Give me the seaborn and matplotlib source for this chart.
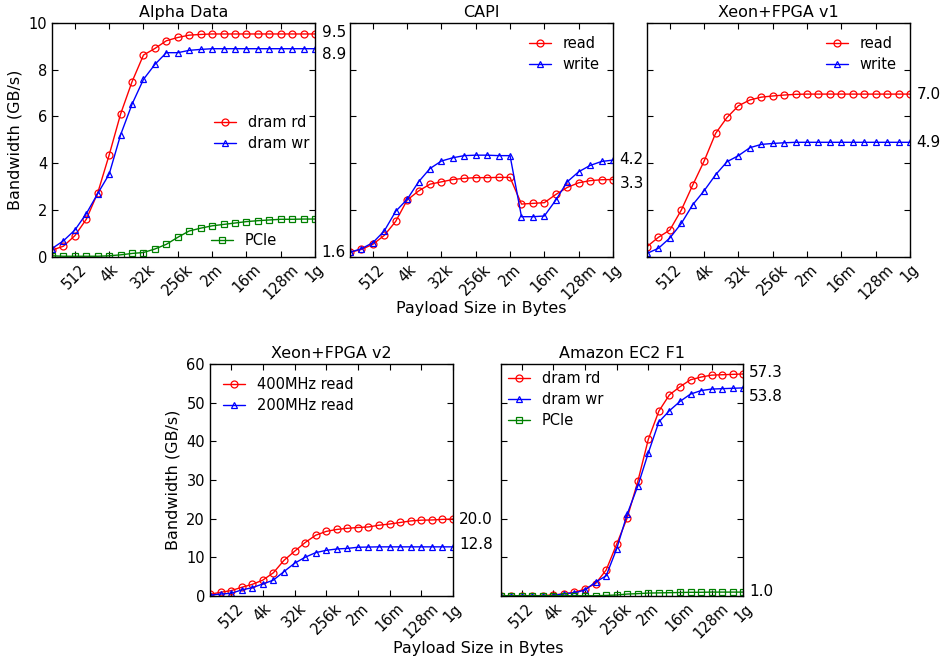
import numpy as np
import pandas as pd
import matplotlib
matplotlib.use("Agg")
import matplotlib.pyplot as plt
import seaborn as sns

# payload sizes 2^7 .. 2^30 bytes
sizes = [2 ** p for p in range(7, 31)]
tick_pos = [2 ** 9, 2 ** 12, 2 ** 15, 2 ** 18, 2 ** 21, 2 ** 24, 2 ** 27, 2 ** 30]
tick_labels = ["512", "4k", "32k", "256k", "2m", "16m", "128m", "1g"]

# Alpha Data
alpha_rd = [0.28, 0.45, 0.9, 1.6, 2.73, 4.35, 6.1, 7.48, 8.62, 8.9, 9.23, 9.37,
            9.47, 9.5, 9.52, 9.52, 9.52, 9.52, 9.52, 9.52, 9.52, 9.52, 9.52, 9.52]
alpha_wr = [0.35, 0.68, 1.14, 1.84, 2.7, 3.53, 5.21, 6.52, 7.58, 8.22, 8.72, 8.72,
            8.82, 8.86, 8.89, 8.89, 8.89, 8.89, 8.89, 8.89, 8.89, 8.89, 8.89, 8.89]
alpha_pcie = [0.04, 0.02, 0.02, 0.02, 0.02, 0.04, 0.08, 0.14, 0.18, 0.33, 0.53, 0.83,
              1.1, 1.22, 1.32, 1.38, 1.44, 1.5, 1.54, 1.57, 1.6, 1.6, 1.61, 1.61]

# CAPI
capi_rd = [0.19, 0.31, 0.53, 0.91, 1.51, 2.42, 2.81, 3.1, 3.2, 3.3, 3.35, 3.38,
           3.38, 3.39, 3.39, 2.25, 2.28, 2.31, 2.66, 2.96, 3.16, 3.25, 3.29, 3.3]
capi_wr = [0.19, 0.34, 0.6, 1.1, 1.94, 2.45, 3.2, 3.77, 4.09, 4.23, 4.32, 4.34,
           4.34, 4.32, 4.32, 1.71, 1.71, 1.74, 2.42, 3.2, 3.63, 3.9, 4.07, 4.13]

# Xeon+FPGA v1
v1_rd = [0.43, 0.83, 1.14, 1.99, 3.06, 4.09, 5.27, 5.95, 6.45, 6.7, 6.82, 6.87,
         6.91, 6.94, 6.95, 6.95, 6.95, 6.95, 6.95, 6.95, 6.95, 6.95, 6.95, 6.95]
v1_wr = [0.14, 0.36, 0.8, 1.42, 2.22, 2.82, 3.5, 4.06, 4.32, 4.66, 4.8, 4.84,
         4.87, 4.89, 4.89, 4.89, 4.89, 4.89, 4.89, 4.89, 4.89, 4.89, 4.89, 4.89]

# Xeon+FPGA v2
v2_400 = [0.43, 0.95, 1.38, 2.24, 3.0, 4.1, 6.0, 9.2, 11.55, 13.8, 15.7, 16.7,
          17.2, 17.5, 17.7, 17.85, 18.3, 18.6, 19.0, 19.4, 19.6, 19.65, 19.8, 19.9]
v2_200 = [0.2, 0.5, 0.7, 1.55, 2.15, 3.1, 4.1, 6.3, 8.45, 10.0, 11.2, 11.8,
          12.15, 12.3, 12.6, 12.65, 12.7, 12.7, 12.7, 12.7, 12.7, 12.7, 12.7, 12.7]

# Amazon EC2 F1
f1_rd = [0.05, 0.05, 0.05, 0.05, 0.1, 0.26, 0.55, 0.95, 1.8, 3.2, 6.7, 13.4,
         20.2, 29.6, 40.5, 47.8, 52.0, 54.1, 55.9, 56.6, 57.1, 57.2, 57.3, 57.4]
f1_wr = [0.0, 0.0, 0.0, 0.0, 0.0, 0.1, 0.6, 0.8, 1.55, 3.6, 5.2, 12.2,
         21.2, 28.4, 37.0, 45.0, 47.9, 50.3, 52.2, 53.1, 53.5, 53.6, 53.7, 53.8]
f1_pcie = [0.05, 0.05, 0.05, 0.05, 0.05, 0.05, 0.05, 0.05, 0.05, 0.05, 0.15, 0.25,
           0.5, 0.6, 0.75, 0.8, 0.85, 0.9, 0.95, 0.95, 1.0, 1.0, 1.0, 1.0]

sns.set_style("ticks")
plt.rcParams["font.family"] = ["DejaVu Sans"]
plt.rcParams.update({
    "xtick.direction": "in", "ytick.direction": "in",
    "xtick.top": True, "ytick.right": True,
    "xtick.major.size": 4, "ytick.major.size": 4,
    "xtick.labelsize": 10.5, "ytick.labelsize": 10.5,
    "axes.linewidth": 1.0, "axes.edgecolor": "black",
    "text.color": "black", "axes.labelcolor": "black",
    "xtick.color": "black", "ytick.color": "black",
})

fig = plt.figure(figsize=(9.42, 6.63), dpi=100)

RED = dict(color="red", marker="o")
BLUE = dict(color="blue", marker="^")
GREEN = dict(color="green", marker="s")


def draw(ax, y, label, style):
    sns.lineplot(x=sizes, y=y, ax=ax, color=style["color"], marker=style["marker"],
                 mfc="none", mec=style["color"], mew=0.9, ms=5, lw=1,
                 label=label, legend=False)


def setup(ax, title, ymax, ystep, show_y):
    ax.set_xscale("log", base=2)
    ax.set_xlim(sizes[0], sizes[-1])
    ax.set_xticks(tick_pos)
    ax.set_xticklabels(tick_labels, rotation=45)
    ax.minorticks_off()
    ax.set_ylim(0, ymax)
    ax.set_yticks(np.arange(0, ymax + 1, ystep))
    if show_y:
        ax.set_ylabel("Bandwidth (GB/s)", fontsize=11.5)
    else:
        ax.set_yticklabels([])
    ax.set_xlabel("")
    ax.set_title(title, fontsize=11.5, pad=4)


def end_labels(ax, texts, ys):
    tr = ax.get_yaxis_transform()
    for s, yy in zip(texts, ys):
        ax.text(1.025, yy, s, transform=tr, va="center", ha="left", fontsize=11)


def legend(ax, lines, **kw):
    leg = ax.legend(handles=lines, frameon=False, numpoints=1, handlelength=1.5,
                    fontsize=10.5, handletextpad=0.8, labelspacing=0.4, **kw)
    return leg


# top row
ax1 = fig.add_axes([0.0552, 0.6128, 0.2792, 0.3529])
ax2 = fig.add_axes([0.3715, 0.6128, 0.2792, 0.3529])
ax3 = fig.add_axes([0.6868, 0.6128, 0.2792, 0.3529])
# bottom row
ax4 = fig.add_axes([0.2229, 0.1011, 0.2580, 0.3500])
ax5 = fig.add_axes([0.5315, 0.1011, 0.2575, 0.3500])

# Alpha Data
draw(ax1, alpha_rd, "dram rd", RED)
draw(ax1, alpha_wr, "dram wr", BLUE)
draw(ax1, alpha_pcie, "PCIe", GREEN)
setup(ax1, "Alpha Data", 10, 2, True)
ln = ax1.get_lines()
leg = legend(ax1, ln[:2], loc="center right", bbox_to_anchor=(1.027, 0.53))
ax1.add_artist(leg)
legend(ax1, ln[2:], loc="center right", bbox_to_anchor=(0.905, 0.068))
end_labels(ax1, ["9.5", "8.9", "1.6"], [9.6, 8.65, 0.19])

# CAPI
draw(ax2, capi_rd, "read", RED)
draw(ax2, capi_wr, "write", BLUE)
setup(ax2, "CAPI", 10, 2, False)
legend(ax2, ax2.get_lines(), loc="upper right", bbox_to_anchor=(1.0, 1.0))
end_labels(ax2, ["4.2", "3.3"], [4.16, 3.15])

# Xeon+FPGA v1
draw(ax3, v1_rd, "read", RED)
draw(ax3, v1_wr, "write", BLUE)
setup(ax3, "Xeon+FPGA v1", 10, 2, False)
legend(ax3, ax3.get_lines(), loc="upper right", bbox_to_anchor=(1.0, 1.0))
end_labels(ax3, ["7.0", "4.9"], [6.95, 4.87])

# Xeon+FPGA v2
draw(ax4, v2_400, "400MHz read", RED)
draw(ax4, v2_200, "200MHz read", BLUE)
setup(ax4, "Xeon+FPGA v2", 60, 10, True)
legend(ax4, ax4.get_lines(), loc="upper left")
end_labels(ax4, ["20.0", "12.8"], [19.9, 13.3])

# Amazon EC2 F1
draw(ax5, f1_rd, "dram rd", RED)
draw(ax5, f1_wr, "dram wr", BLUE)
draw(ax5, f1_pcie, "PCIe", GREEN)
setup(ax5, "Amazon EC2 F1", 60, 10, False)
legend(ax5, ax5.get_lines(), loc="upper left", borderaxespad=0.1)
end_labels(ax5, ["57.3", "53.8", "1.0"], [57.8, 51.7, 1.1])

fig.text(0.5106, 0.535, "Payload Size in Bytes", ha="center", va="center", fontsize=11.5)
fig.text(0.5074, 0.022, "Payload Size in Bytes", ha="center", va="center", fontsize=11.5)

fig.savefig("out.png", dpi=100)
